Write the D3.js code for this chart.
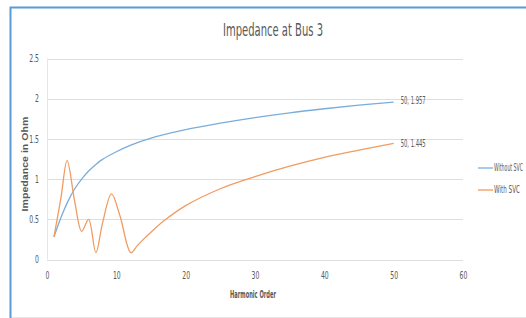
<!DOCTYPE html>
<html>
<head>
<meta charset="utf-8">
<script src="https://cdn.jsdelivr.net/npm/d3@7"></script>
<style>
  body { margin: 0; background: #fff; }
  text { font-family: "DejaVu Sans Condensed", "Liberation Sans", sans-serif; fill: #595959; }
</style>
</head>
<body>
<script>
// Données
const blueHarmonics = [1, 2, 3, 4, 5, 6, 7, 8, 10, 12, 15, 20, 25, 30, 35, 40, 45, 50]
const blueValues = [0.28, 0.52, 0.72, 0.88, 1.0, 1.1, 1.18, 1.245, 1.34, 1.42, 1.51, 1.615, 1.695, 1.765, 1.825, 1.875, 1.92, 1.957]

const orangeHarmonics = [1, 2, 2.9, 4, 5, 6, 7.05, 8, 9.3, 10.5, 12.1, 13, 14, 15, 17, 20, 25, 30, 35, 40, 45, 50]
const orangeValues = [0.28, 0.76, 1.23, 0.72, 0.35, 0.5, 0.085, 0.45, 0.815, 0.55, 0.085, 0.17, 0.26, 0.34, 0.49, 0.67, 0.88, 1.03, 1.16, 1.27, 1.36, 1.445]

const xTicks = [0, 10, 20, 30, 40, 50, 60]
const yTicks = [0, 0.5, 1, 1.5, 2, 2.5]
const seriesNames = ['Without SVC', 'With SVC']
const colors = ['#7aaddb', '#f29b60']

// Resserre un texte pour imiter une police étroite
function condense(sel, factor) {
  sel.each(function () {
    const w = this.getComputedTextLength()
    d3.select(this).attr('textLength', w * factor).attr('lengthAdjust', 'spacingAndGlyphs')
  })
}

const svg = d3.select('body')
  .append('svg')
  .attr('width', 526)
  .attr('height', 318)

// Cadre
svg.append('line').attr('x1', 10).attr('x2', 526).attr('y1', 317.5).attr('y2', 317.5)
  .attr('stroke', '#e6e6e6')
svg.append('path')
  .attr('d', 'M10.5,318 V7.5 H526')
  .attr('fill', 'none')
  .attr('stroke', '#5b9bd5')
  .attr('stroke-width', 2)

const x = d3.scaleLinear().domain([0, 60]).range([47, 463])
const y = d3.scaleLinear().domain([0, 2.5]).range([259.5, 58.5])

// Grille
svg.append('g')
  .selectAll('line')
  .data(yTicks)
  .enter()
  .append('line')
    .attr('x1', x(0))
    .attr('x2', x(60))
    .attr('y1', d => Math.round(y(d)) + 0.5)
    .attr('y2', d => Math.round(y(d)) + 0.5)
    .attr('stroke', '#dedede')

svg.append('line')
  .attr('x1', x(0) + 0.5).attr('x2', x(0) + 0.5)
  .attr('y1', y(2.5)).attr('y2', y(0))
  .attr('stroke', '#e6e6e6')

// Axes
const xAxis = svg.append('g')
  .attr('transform', `translate(0, ${y(0) + 9})`)
  .call(d3.axisBottom(x).tickValues(xTicks).tickSize(0).tickFormat(d3.format('d')))
xAxis.select('.domain').remove()
xAxis.selectAll('text').attr('font-size', 10).attr('font-family', null).call(condense, 0.68)

const yAxis = svg.append('g')
  .attr('transform', `translate(${x(0) - 5}, 0)`)
  .call(d3.axisLeft(y).tickValues(yTicks).tickSize(0).tickFormat(d => String(d)))
yAxis.select('.domain').remove()
yAxis.selectAll('text').attr('font-size', 10).attr('font-family', null).call(condense, 0.68)

// Titres
svg.append('text')
  .text('Impedance at Bus 3')
  .attr('x', 273)
  .attr('y', 36)
  .attr('text-anchor', 'middle')
  .attr('font-size', 17)
  .attr('textLength', 100)
  .attr('lengthAdjust', 'spacingAndGlyphs')

svg.append('text')
  .text('Harmonic Order')
  .attr('x', 253)
  .attr('y', 298)
  .attr('text-anchor', 'middle')
  .attr('font-size', 10)
  .attr('font-weight', 'bold')
  .attr('textLength', 46)
  .attr('lengthAdjust', 'spacingAndGlyphs')

svg.append('text')
  .text('Impedance in Ohm')
  .attr('transform', 'translate(28, 164) rotate(-90)')
  .attr('text-anchor', 'middle')
  .attr('font-size', 8.5)
  .attr('font-weight', 'bold')
  .attr('textLength', 95)
  .attr('lengthAdjust', 'spacingAndGlyphs')
  .style('font-family', '"Liberation Sans", Arial, sans-serif')

// Courbes
const line = d3.line()
  .x(d => x(d[0]))
  .y(d => y(d[1]))
  .curve(d3.curveCatmullRom.alpha(0.5))

const series = [
  d3.zip(blueHarmonics, blueValues),
  d3.zip(orangeHarmonics, orangeValues)
]

series.forEach((s, i) => {
  svg.append('path')
    .datum(s)
    .attr('d', line)
    .attr('fill', 'none')
    .attr('stroke', colors[i])
    .attr('stroke-width', 1.3)

  // Étiquette du dernier point
  const last = s[s.length - 1]
  svg.append('text')
    .text(`${last[0]}, ${last[1]}`)
    .attr('x', x(last[0]) + 7)
    .attr('y', y(last[1]) + (i === 0 ? -1.5 : 0.5))
    .attr('dominant-baseline', 'middle')
    .attr('font-size', 10)
    .attr('textLength', 25)
    .attr('lengthAdjust', 'spacingAndGlyphs')
})

// Légende
seriesNames.forEach((name, i) => {
  const ly = 168 + i * 22
  svg.append('line')
    .attr('x1', 478).attr('x2', 493)
    .attr('y1', ly).attr('y2', ly)
    .attr('stroke', colors[i])
    .attr('stroke-width', 1.3)
  svg.append('text')
    .text(name)
    .attr('x', 494)
    .attr('y', ly)
    .attr('dominant-baseline', 'middle')
    .attr('font-size', 10)
    .attr('textLength', i === 0 ? 29 : 26)
    .attr('lengthAdjust', 'spacingAndGlyphs')
})
</script>
</body>
</html>
